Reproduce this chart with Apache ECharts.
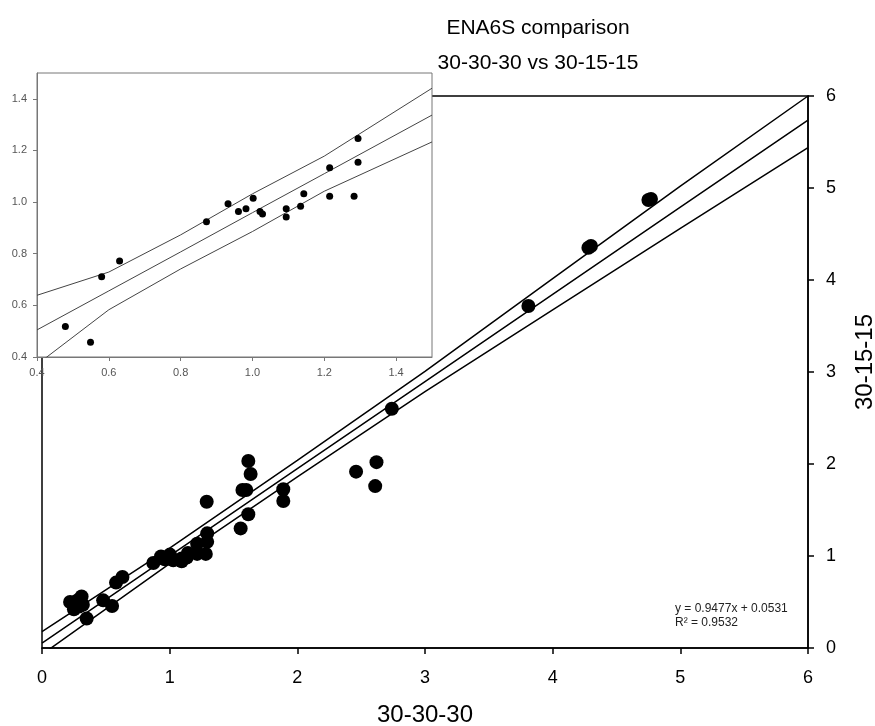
<!DOCTYPE html>
<html><head><meta charset="utf-8">
<script src="https://cdn.jsdelivr.net/npm/echarts@6/dist/echarts.min.js"></script>
<style>html,body{margin:0;padding:0;background:#fff}#c{width:875px;height:726px}</style>
</head><body><div id="c"></div>
<script>
// Points shown in both the main plot and the inset (30-30-30 vs 30-15-15)
const insetX = [0.479, 0.549, 0.580, 0.630, 0.872, 0.932, 0.961, 0.982, 1.002, 1.021, 1.028, 1.094, 1.094, 1.134, 1.143, 1.215, 1.215, 1.283, 1.294, 1.294];
const insetY = [0.518, 0.457, 0.711, 0.772, 0.924, 0.994, 0.964, 0.974, 1.015, 0.964, 0.954, 0.974, 0.942, 0.984, 1.032, 1.133, 1.023, 1.023, 1.246, 1.154];
// Points only visible in the main plot
const outerX = [0.22, 0.25, 0.28, 0.31, 0.32, 0.29, 0.35, 1.29, 1.556, 1.616, 1.57, 1.60, 1.616, 1.634, 1.89, 1.89, 2.46, 2.61, 2.62, 2.74, 3.81, 4.28, 4.30, 4.75, 4.77];
const outerY = [0.50, 0.42, 0.52, 0.56, 0.47, 0.45, 0.32, 1.59, 1.30, 1.453, 1.717, 1.717, 2.033, 1.891, 1.725, 1.598, 1.917, 1.76, 2.02, 2.60, 3.717, 4.35, 4.37, 4.87, 4.88];
// Main regression line and confidence band
const bandX = [0, 1, 2, 3, 4, 5, 6];
const bandUpper = [0.178, 1.086, 2.039, 3.006, 4.014, 5.020, 6.000];
const bandFit = [0.053, 1.001, 1.949, 2.896, 3.844, 4.792, 5.739];
const bandLower = [-0.070, 0.916, 1.859, 2.786, 3.674, 4.560, 5.440];
// Inset regression line and confidence band
const insetBandX = [0.4, 0.6, 0.8, 1.0, 1.2, 1.5];
const insetUpper = [0.639, 0.729, 0.873, 1.032, 1.178, 1.441];
const insetFit = [0.505, 0.656, 0.807, 0.959, 1.110, 1.337];
const insetLower = [0.371, 0.583, 0.741, 0.886, 1.042, 1.233];
// Text
const titleLines = ['ENA6S comparison', '30-30-30 vs 30-15-15'];
const xName = '30-30-30';
const yName = '30-15-15';
const eqLines = ['y = 0.9477x + 0.0531', 'R² = 0.9532'];

const FONT = 'Liberation Sans, Arial, sans-serif';
const zip = (xs, ys) => xs.map((x, i) => [x, ys[i]]);
const mainPts = zip(insetX, insetY).concat(zip(outerX, outerY));

const chart = echarts.init(document.getElementById('c'), null, {renderer: 'canvas'});
const mainLine = {type: 'line', xAxisIndex: 0, yAxisIndex: 0, symbol: 'none', silent: true,
  lineStyle: {color: '#000', width: 1.5}, z: 3};
const insetLine = {type: 'line', xAxisIndex: 1, yAxisIndex: 1, symbol: 'none', silent: true,
  lineStyle: {color: '#444', width: 1}, z: 12};
chart.setOption({
  animation: false,
  backgroundColor: '#fff',
  textStyle: {fontFamily: FONT},
  title: {
    text: titleLines.join('\n'), left: 538, top: 11, textAlign: 'center', padding: 0,
    textStyle: {fontSize: 21, fontWeight: 'normal', color: '#000', lineHeight: 35, fontFamily: FONT}
  },
  grid: [
    {left: 42, top: 96, width: 766, height: 552, show: true, borderColor: '#000', borderWidth: 1.5,
     backgroundColor: 'transparent', z: 0, outerBoundsMode: 'none', containLabel: false},
    {left: 37, top: 73, width: 395, height: 284, show: true, borderColor: '#777', borderWidth: 1,
     backgroundColor: '#fff', z: 10, outerBoundsMode: 'none', containLabel: false}
  ],
  xAxis: [
    {gridIndex: 0, type: 'value', min: 0, max: 6, interval: 1, position: 'bottom',
     name: xName, nameLocation: 'middle', nameGap: 55,
     nameTextStyle: {fontSize: 24, color: '#000', fontFamily: FONT},
     axisLine: {onZero: false, lineStyle: {color: '#000', width: 1.5}},
     axisTick: {show: true, length: 6, lineStyle: {color: '#000', width: 1.5}},
     axisLabel: {fontSize: 18, color: '#000', margin: 21, fontFamily: FONT},
     splitLine: {show: false}},
    {gridIndex: 1, type: 'value', min: 0.4, max: 1.5, interval: 0.2, position: 'bottom', z: 11,
     axisLine: {onZero: false, lineStyle: {color: '#777', width: 1}},
     axisTick: {show: true, length: 4, lineStyle: {color: '#777'}},
     axisLabel: {fontSize: 11, color: '#555', margin: 10, showMaxLabel: false, fontFamily: FONT,
       formatter: v => v.toFixed(1)},
     splitLine: {show: false}}
  ],
  yAxis: [
    {gridIndex: 0, type: 'value', min: 0, max: 6, interval: 1, position: 'right',
     name: yName, nameLocation: 'middle', nameGap: 45,
     nameTextStyle: {fontSize: 24, color: '#000', fontFamily: FONT, padding: [0, 0, 0, 20]},
     axisLine: {onZero: false, lineStyle: {color: '#000', width: 1.5}},
     axisTick: {show: true, length: 6, lineStyle: {color: '#000', width: 1.5}},
     axisLabel: {fontSize: 18, color: '#000', margin: 18, fontFamily: FONT},
     splitLine: {show: false}},
    {gridIndex: 1, type: 'value', min: 0.4, max: 1.5, interval: 0.2, position: 'left', z: 11,
     axisLine: {onZero: false, lineStyle: {color: '#777', width: 1}},
     axisTick: {show: true, length: 4, lineStyle: {color: '#777'}},
     axisLabel: {fontSize: 11, color: '#555', margin: 10, showMaxLabel: false, fontFamily: FONT,
       formatter: v => v.toFixed(1)},
     splitLine: {show: false}}
  ],
  series: [
    Object.assign({}, mainLine, {data: zip(bandX, bandUpper)}),
    Object.assign({}, mainLine, {data: zip(bandX, bandFit)}),
    Object.assign({}, mainLine, {data: zip(bandX, bandLower)}),
    {type: 'scatter', xAxisIndex: 0, yAxisIndex: 0, symbol: 'circle', symbolSize: 14,
     itemStyle: {color: '#000', opacity: 1}, data: mainPts, z: 4},
    Object.assign({}, insetLine, {data: zip(insetBandX, insetUpper)}),
    Object.assign({}, insetLine, {data: zip(insetBandX, insetFit)}),
    Object.assign({}, insetLine, {data: zip(insetBandX, insetLower)}),
    {type: 'scatter', xAxisIndex: 1, yAxisIndex: 1, symbol: 'circle', symbolSize: 7,
     itemStyle: {color: '#000', opacity: 1}, data: zip(insetX, insetY), z: 13}
  ],
  graphic: [
    {type: 'text', left: 675, top: 602, z: 20,
     style: {text: eqLines.join('\n'), font: '12px ' + FONT, fill: '#222', lineHeight: 14}}
  ]
});
</script></body></html>
